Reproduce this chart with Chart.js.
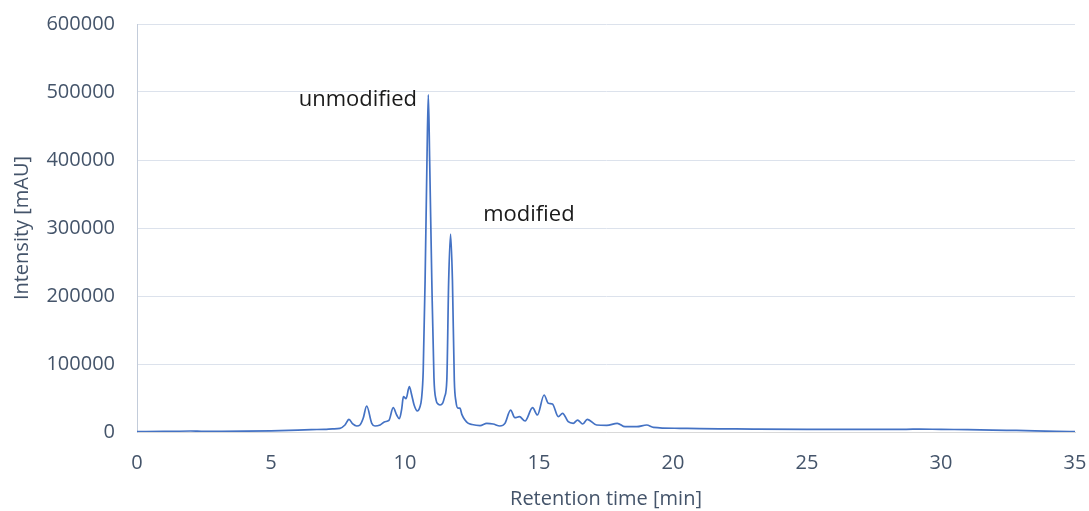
<!DOCTYPE html>
<html>
<head>
<meta charset="utf-8">
<script src="https://cdn.jsdelivr.net/npm/chart.js@4/dist/chart.umd.min.js"></script>
<style>
  html, body { margin: 0; padding: 0; background: #fff; }
  canvas { display: block; }
</style>
</head>
<body>
<canvas id="chromChart" width="1089" height="511"></canvas>
<script>
// retention time [min] and intensity [mAU]
const times = [
  0, 1, 2, 2.5, 3, 4, 5, 6, 6.5, 7, 7.3, 7.57, 7.76, 7.91, 8.05, 8.2, 8.32, 8.44, 8.57, 8.76,
  8.88, 9.07, 9.25, 9.4, 9.56, 9.69, 9.79, 9.88, 9.94, 10.04, 10.16, 10.25, 10.34, 10.46, 10.55, 10.62,
  10.68, 10.75, 10.82, 10.87, 10.92, 11.0, 11.08, 11.16, 11.24, 11.31, 11.4, 11.48, 11.56, 11.63, 11.7,
  11.77, 11.84, 11.9, 11.98, 12.05, 12.12, 12.24, 12.35, 12.5, 12.8, 13.05, 13.29, 13.54, 13.73, 13.94,
  14.1, 14.27, 14.48, 14.76, 14.94, 15.19, 15.35, 15.5, 15.72, 15.88, 16.09, 16.28, 16.44, 16.63, 16.8,
  17.15, 17.53, 17.92, 18.21, 18.65, 19.02, 19.27, 20.26, 21, 22, 23, 25, 27, 28.7, 29.2, 30, 31, 32.45,
  33.5, 34.3, 35
];
const intensity = [
  500, 800, 1500, 800, 900, 1200, 1800, 2800, 3500, 4000, 4600, 5400, 10300, 18600, 11800, 8800, 10300, 20100, 38200, 12800,
  8800, 10300, 15100, 17000, 35700, 25000, 19600, 34800, 52000, 49000, 66600, 54400, 39700, 30900, 36000, 50000,
  90000, 223000, 400000, 496000, 400000, 223000, 80000, 47000, 41000, 39700, 42000, 52000, 76000, 223000, 291000,
  223000, 76000, 45000, 35000, 35000, 26000, 17600, 13000, 11000, 9500, 12700, 11800, 8800, 12700, 32300,
  21000, 22500, 16200, 35700, 25000, 54400, 42200, 41200, 22500, 27500, 15100, 12800, 17600, 11800, 18600,
  10300, 9800, 12800, 7800, 7800, 10300, 6900, 5400, 4900, 4600, 4300, 4000, 4000, 4000, 4300, 3800, 3500, 2500,
  1800, 1000, 500
];
const xTicks = [0, 5, 10, 15, 20, 25, 30, 35];
const yTicks = [0, 100000, 200000, 300000, 400000, 500000, 600000];

// peak labels: text, time, intensity, alignment
const peakLabels = [
  { text: "unmodified", t: 10.45, v: 488000, align: "right" },
  { text: "modified", t: 12.92, v: 319000, align: "left" }
];

const textColor = "#44546A";
const fontFamily = "'Open Sans', sans-serif";

const points = times.map((t, i) => ({ x: t, y: intensity[i] }));

const peakLabelPlugin = {
  id: "peakLabels",
  afterDatasetsDraw(chart) {
    const { ctx, scales: { x, y } } = chart;
    ctx.save();
    ctx.font = "22px " + fontFamily;
    ctx.fillStyle = "#1a1a1a";
    ctx.textBaseline = "middle";
    peakLabels.forEach(l => {
      ctx.textAlign = l.align;
      ctx.fillText(l.text, x.getPixelForValue(l.t), y.getPixelForValue(l.v));
    });
    ctx.restore();
  }
};

new Chart(document.getElementById("chromChart"), {
  type: "line",
  data: {
    datasets: [{
      data: points,
      borderColor: "#4472C4",
      borderWidth: 1.7,
      pointRadius: 0,
      fill: false,
      cubicInterpolationMode: "monotone"
    }]
  },
  options: {
    responsive: false,
    animation: false,
    events: [],
    layout: { padding: { top: 24, right: 14, left: 0, bottom: 0 } },
    plugins: { legend: { display: false }, tooltip: { enabled: false } },
    scales: {
      x: {
        type: "linear",
        min: 0,
        max: 35,
        afterBuildTicks: s => { s.ticks = xTicks.map(v => ({ value: v })); },
        afterFit: s => { s.height = 79; s.paddingLeft = 0; s.paddingRight = 0; },
        grid: { display: false, drawTicks: false },
        border: { display: true, color: "#D9D9D9", width: 1 },
        ticks: {
          padding: 19,
          color: textColor,
          font: { family: fontFamily, size: 20 },
          maxRotation: 0,
          callback: v => String(v)
        },
        title: {
          display: true,
          text: "Retention time [min]",
          color: textColor,
          font: { family: fontFamily, size: 20 },
          padding: { top: 0, bottom: 0 }
        }
      },
      y: {
        min: 0,
        max: 600000,
        afterBuildTicks: s => { s.ticks = yTicks.map(v => ({ value: v })); },
        afterFit: s => { s.width = 137; s.paddingTop = 0; s.paddingBottom = 0; },
        grid: { color: "#DCE2EC", drawTicks: false, lineWidth: 1 },
        border: { display: true, color: "#C3CCDA", width: 1 },
        ticks: {
          padding: 22,
          color: textColor,
          font: { family: fontFamily, size: 20 },
          callback: v => String(v)
        },
        title: {
          display: true,
          text: "Intensity [mAU]",
          color: textColor,
          font: { family: fontFamily, size: 20 },
          padding: { top: 10, bottom: 0 }
        }
      }
    }
  },
  plugins: [peakLabelPlugin]
});
</script>
</body>
</html>
